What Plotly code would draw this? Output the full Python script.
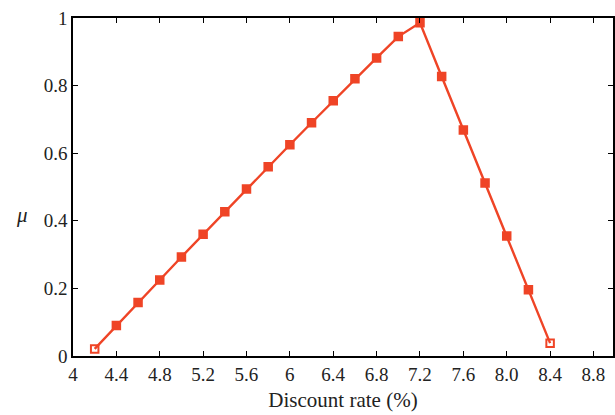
import plotly.graph_objects as go

discount_rate = [4.2, 4.4, 4.6, 4.8, 5.0, 5.2, 5.4, 5.6, 5.8, 6.0, 6.2,
                 6.4, 6.6, 6.8, 7.0, 7.2, 7.4, 7.6, 7.8, 8.0, 8.2, 8.4]
mu = [0.021, 0.090, 0.158, 0.225, 0.293, 0.360, 0.427, 0.494, 0.560, 0.625, 0.690,
      0.755, 0.820, 0.882, 0.945, 0.986, 0.827, 0.669, 0.512, 0.355, 0.196, 0.038]
x_tickvals = [4.0, 4.4, 4.8, 5.2, 5.6, 6.0, 6.4, 6.8, 7.2, 7.6, 8.0, 8.4, 8.8]
x_ticktext = ["4", "4.4", "4.8", "5.2", "5.6", "6", "6.4", "6.8", "7.2", "7.6", "8.0", "8.4", "8.8"]
y_tickvals = [0, 0.2, 0.4, 0.6, 0.8, 1.0]
y_ticktext = ["0", "0.2", "0.4", "0.6", "0.8", "1"]

color = "#ef4426"
symbols = ["square-open"] + ["square"] * (len(mu) - 2) + ["square-open"]

fig = go.Figure()
fig.add_trace(go.Scatter(
    x=discount_rate, y=mu, mode="lines+markers",
    line=dict(color=color, width=2.4),
    marker=dict(symbol=symbols, size=7.5, color=color, line=dict(color=color, width=2)),
    showlegend=False,
))

font_family = "Liberation Serif"
axis_common = dict(
    showline=True, linecolor="black", linewidth=1.5, mirror="ticks",
    ticks="inside", ticklen=5, tickwidth=1.2, tickcolor="black",
    showgrid=False, zeroline=False,
    tickfont=dict(family=font_family, size=19, color="#222"),
)

fig.update_layout(
    width=615, height=415,
    margin=dict(l=73, r=0, t=18, b=59),
    paper_bgcolor="white", plot_bgcolor="white",
    xaxis=dict(range=[4, 8.98], tickvals=x_tickvals, ticktext=x_ticktext,
               title=dict(text="Discount rate (%)", standoff=9,
                          font=dict(family=font_family, size=21, color="#222")),
               **axis_common),
    yaxis=dict(range=[0, 1], tickvals=y_tickvals, ticktext=y_ticktext, **axis_common),
    annotations=[dict(text="<i>μ</i>", xref="paper", yref="paper", x=-0.109, y=0.417,
                      showarrow=False, font=dict(family=font_family, size=21, color="#222"))],
)

fig.write_html("out.html")
